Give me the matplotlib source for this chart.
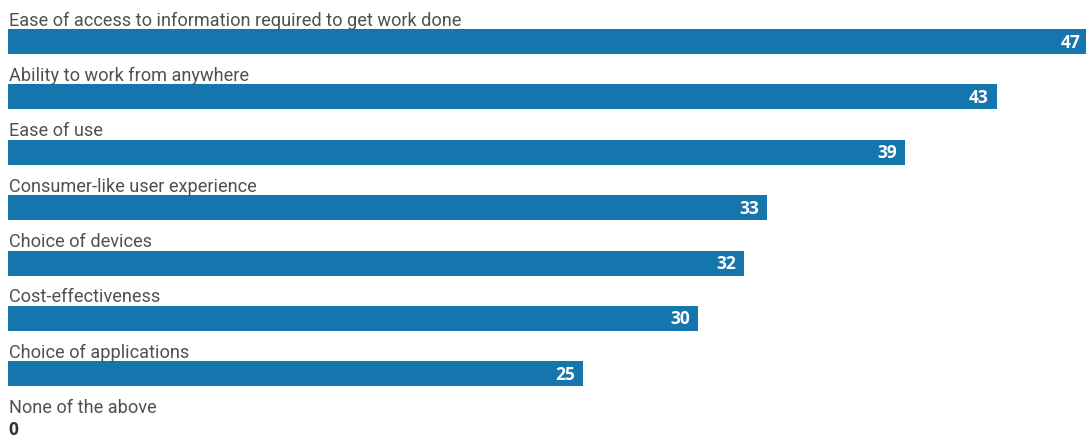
import matplotlib
matplotlib.use("Agg")
import matplotlib.pyplot as plt

categories = [
    "Ease of access to information required to get work done",
    "Ability to work from anywhere",
    "Ease of use",
    "Consumer-like user experience",
    "Choice of devices",
    "Cost-effectiveness",
    "Choice of applications",
    "None of the above",
]
values = [47, 43, 39, 33, 32, 30, 25, 0]

W, H = 1086, 439
fig = plt.figure(figsize=(W / 100, H / 100), dpi=100)
ax = fig.add_axes([0, 0, 1, 1])

px_per_unit = 23.0
x0_px = 8.0
pitch = 55.4
c0 = 42.5
ax.set_xlim(-x0_px / px_per_unit, (W - x0_px) / px_per_unit)
ax.set_ylim((H - c0) / pitch, -c0 / pitch)
ax.axis("off")

bar_h = 25 / pitch
color = "#1576ad"
ypos = list(range(len(values)))
ax.barh(ypos, values, height=bar_h, color=color, left=0)

for i, (cat, v) in enumerate(zip(categories, values)):
    ax.text(0.04, i - 17.0 / pitch, cat, fontsize=13.1, color="#505050",
            family="Roboto", fontweight="normal", va="baseline", ha="left")
    if v > 0:
        ax.text(v - 8 / px_per_unit, i, str(v), fontsize=12.5, color="white",
                fontweight="bold", family="Open Sans", va="center", ha="right")
    else:
        ax.text(0.0, i, str(v), fontsize=12.5, color="#333333",
                fontweight="bold", family="Open Sans", va="center", ha="left")

fig.savefig("out.png", dpi=100)
